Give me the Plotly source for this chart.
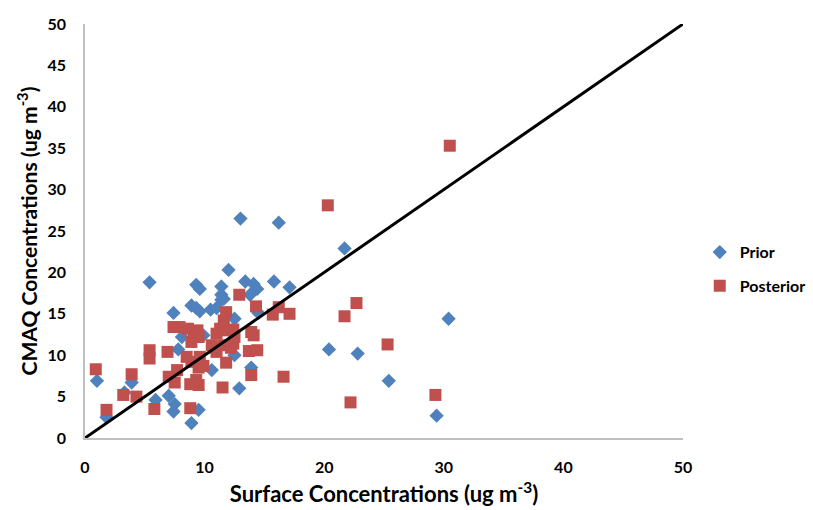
import plotly.graph_objects as go

prior_x = [13.0, 16.2, 21.7, 12.0, 5.4, 9.3, 9.6, 11.4, 13.4, 14.1, 14.4, 15.8, 17.1,
           11.4, 11.6, 13.8, 8.9, 9.6, 10.5, 11.0, 7.4, 12.5, 14.5, 8.1, 7.8, 12.5,
           10.6, 13.9, 1.0, 3.9, 12.9, 5.9, 7.0, 7.5, 7.4, 9.5, 8.9, 1.8, 20.4, 22.8,
           25.4, 29.4, 30.4, 9.9, 3.3, 11.4, 9.3]
prior_y = [26.5, 26.0, 22.9, 20.3, 18.8, 18.5, 18.0, 18.3, 18.9, 18.6, 18.0, 18.9, 18.2,
           17.3, 16.8, 17.3, 16.0, 15.3, 15.5, 15.7, 15.1, 14.4, 15.1, 12.2, 10.7, 10.0,
           8.2, 8.5, 6.9, 6.7, 6.0, 4.6, 5.1, 4.1, 3.2, 3.4, 1.8, 2.5, 10.7, 10.2,
           6.9, 2.7, 14.4, 12.4, 5.5, 16.7, 15.7]

post_x = [30.5, 20.3, 22.7, 21.7, 25.3, 29.3, 22.2, 16.6, 13.9, 11.5, 12.9, 14.3, 15.7,
          16.2, 17.1, 13.9, 14.1, 13.7, 14.4, 11.8, 7.4, 7.9, 8.6, 9.4, 9.1, 8.9, 11.8,
          11.6, 11.3, 11.0, 12.4, 12.5, 10.6, 10.9, 11.6, 12.4, 12.2, 11.0, 5.4, 5.4,
          6.9, 8.5, 8.9, 9.5, 9.9, 7.7, 7.0, 7.5, 8.8, 9.5, 9.3, 0.9, 3.9, 3.2, 4.3,
          1.8, 5.8, 8.8, 9.6, 9.5, 11.8]
post_y = [35.3, 28.1, 16.3, 14.7, 11.3, 5.2, 4.3, 7.4, 7.6, 6.1, 17.3, 15.9, 14.9,
          15.8, 15.0, 12.8, 12.4, 10.5, 10.6, 9.1, 13.4, 13.4, 13.2, 13.0, 12.2, 11.6, 15.2,
          14.2, 13.2, 12.6, 13.1, 12.2, 11.2, 10.9, 11.2, 11.4, 10.9, 10.4, 10.6, 9.6,
          10.4, 9.8, 9.2, 8.5, 8.7, 8.2, 7.4, 6.7, 6.5, 6.4, 7.0, 8.3, 7.7, 5.2, 5.0,
          3.4, 3.5, 3.6, 9.8, 12.2, 13.0]

line_x = [0, 50]
line_y = [0, 50]

tick_vals = [0, 10, 20, 30, 40, 50]
ytick_vals = [0, 5, 10, 15, 20, 25, 30, 35, 40, 45, 50]

FONT = "Lato"
fig = go.Figure()
fig.add_trace(go.Scatter(x=prior_x, y=prior_y, mode="markers", name="Prior",
                         legendgroup="a",
                         marker=dict(symbol="diamond", size=11, color="#4F81BD")))
fig.add_trace(go.Scatter(x=post_x, y=post_y, mode="markers", name="Posterior",
                         legendgroup="b",
                         marker=dict(symbol="square", size=12, color="#C0504D")))
fig.add_trace(go.Scatter(x=line_x, y=line_y, mode="lines", showlegend=False,
                         line=dict(color="black", width=3)))

fig.update_layout(
    width=813, height=510,
    margin=dict(l=85, r=130, t=24, b=72, autoexpand=False),
    paper_bgcolor="white", plot_bgcolor="white",
    font=dict(family=FONT, size=16, color="black"),
    showlegend=True,
    legend=dict(x=1.028, y=0.49, xanchor="left", yanchor="top",
                font=dict(family=FONT, size=16, color="black", weight="bold"),
                tracegroupgap=10, traceorder="grouped", itemwidth=30,
                bgcolor="rgba(0,0,0,0)"),
)
fig.update_xaxes(range=[0, 50], tickvals=tick_vals, showgrid=False, zeroline=False,
                 showline=True, linecolor="#BFBFBF", linewidth=1.5,
                 ticks="", ticklabelstandoff=14,
                 tickfont=dict(family=FONT, size=16, weight="bold"),
                 title=dict(text="Surface Concentrations (ug m<sup>-3</sup>)",
                            font=dict(family=FONT, size=22, weight="bold"), standoff=12))
fig.update_yaxes(range=[0, 50], tickvals=ytick_vals, showgrid=False, zeroline=False,
                 showline=True, linecolor="#BFBFBF", linewidth=1.5,
                 ticks="", ticklabelstandoff=14,
                 tickfont=dict(family=FONT, size=16, weight="bold"),
                 title=dict(text="CMAQ Concentrations (ug m<sup>-3</sup>)",
                            font=dict(family=FONT, size=21, weight="bold"), standoff=4))

fig.write_html("out.html")
